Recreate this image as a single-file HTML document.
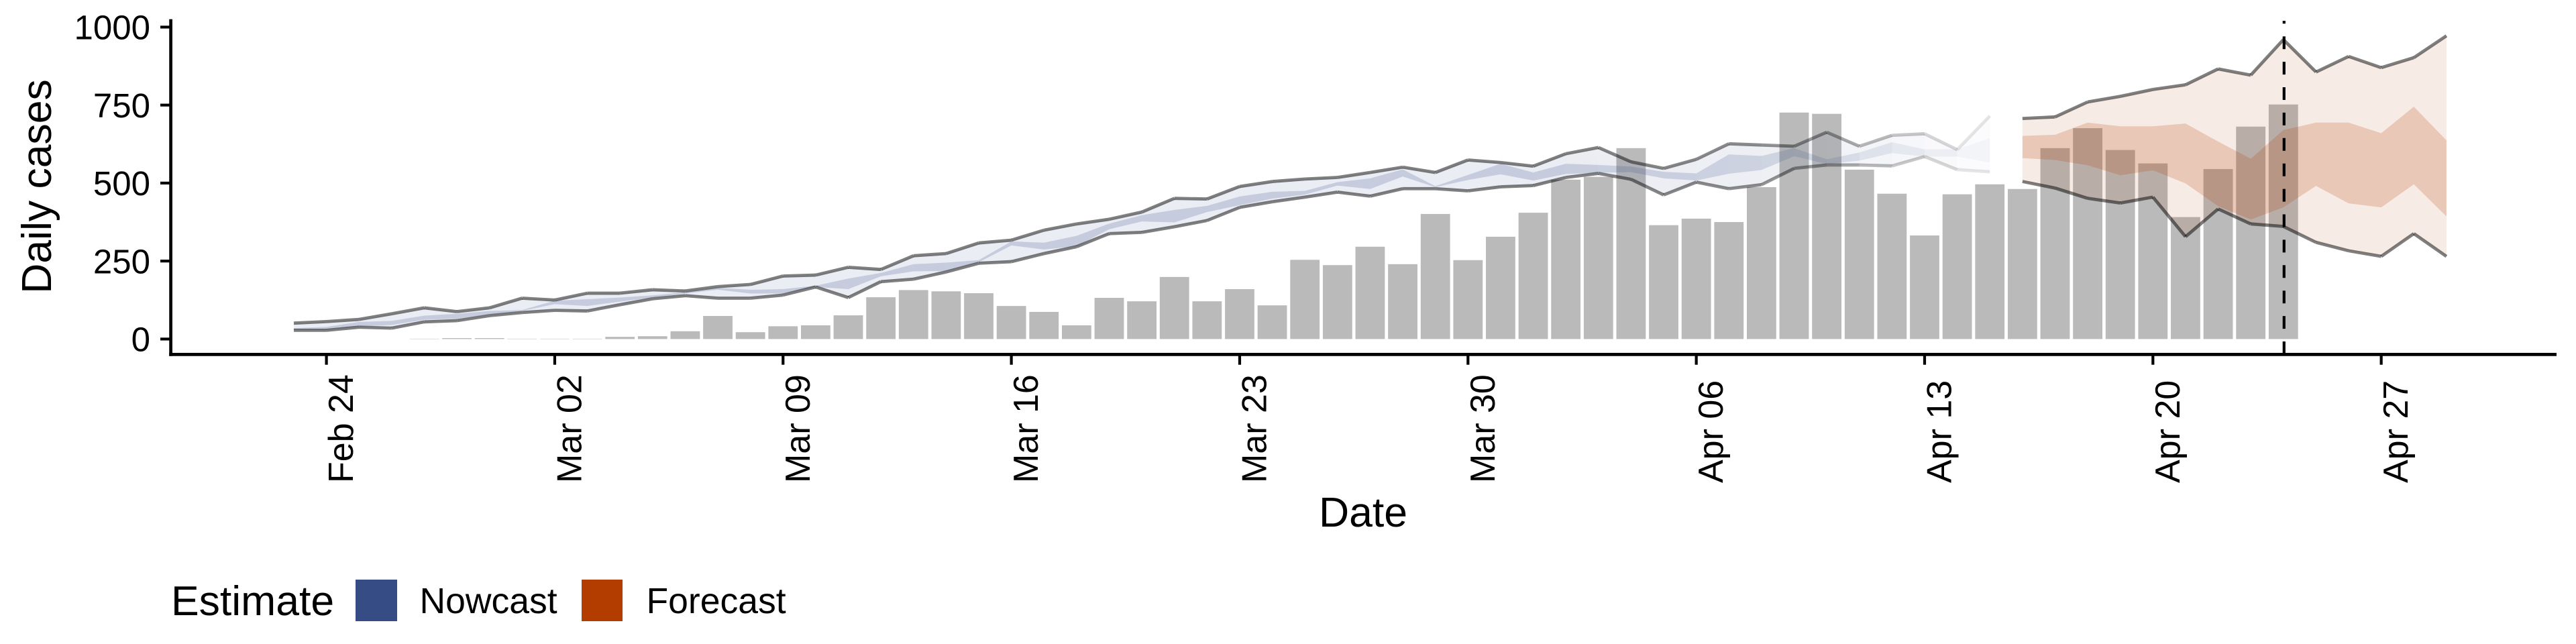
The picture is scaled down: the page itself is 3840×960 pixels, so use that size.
<!DOCTYPE html>
<html>
<head>
<meta charset="utf-8">
<title>Daily cases</title>
<style>
html,body{margin:0;padding:0;background:#fff;width:3840px;height:960px;overflow:hidden}
svg{display:block}
text{font-family:"Liberation Sans",Arial,sans-serif;fill:#000}
</style>
</head>
<body>
<svg id="chart" xmlns="http://www.w3.org/2000/svg" width="3840" height="960" viewBox="0 0 3840 960">
  <rect x="0" y="0" width="3840" height="960" fill="#ffffff"/>
  <g id="bars"></g>
  <g id="ribbons"></g>
  <g id="lines"></g>
  <g id="axes"></g>
  <text transform="translate(76,278) rotate(-90)" text-anchor="middle" font-size="62.5">Daily cases</text>
  <text x="2032" y="785" text-anchor="middle" font-size="62.5">Date</text>
  <g>
    <text x="255" y="917" font-size="62.5">Estimate</text>
    <rect x="530" y="864" width="62" height="62" fill="#354c85"/>
    <text x="625.5" y="914" font-size="53.5">Nowcast</text>
    <rect x="867" y="864" width="61" height="62" fill="#b33c00"/>
    <text x="963.5" y="914" font-size="53.5">Forecast</text>
  </g>
</svg>
<script>
// ---- Chart data (day numbers are offsets from Feb 24) ----
const yTicks = [0, 250, 500, 750, 1000];
const xTickDays = [0, 7, 14, 21, 28, 35, 42, 49, 56, 63];
const xTickLabels = ["Feb 24", "Mar 02", "Mar 09", "Mar 16", "Mar 23", "Mar 30", "Apr 06", "Apr 13", "Apr 20", "Apr 27"];
const reportDay = 60;

const barFirstDay = 3;
const barValues = [1, 3, 3, 1, 1, 1, 7, 9, 25, 74, 22, 41, 44, 76, 134, 157, 153, 147, 106, 87, 44, 132, 121, 199, 121, 160, 108, 254, 237, 296, 240, 401, 253, 328, 405, 511, 520, 612, 365, 386, 375, 487, 726, 722, 543, 466, 332, 464, 496, 481, 612, 676, 606, 563, 391, 545, 681, 752];

const nowcastFirstDay = -1;
const nowcastUpper90 = [51, 56, 63, 81, 100, 88, 100, 131, 125, 147, 147, 158, 154, 168, 175, 202, 205, 230, 223, 267, 274, 308, 317, 349, 369, 384, 407, 451, 449, 489, 505, 513, 518, 534, 551, 534, 574, 566, 554, 594, 614, 568, 547, 576, 626, 622, 618, 663, 618, 653, 658, 607, 715];
const nowcastLower90 = [28, 28, 38, 35, 55, 59, 75, 85, 92, 90, 110, 129, 139, 131, 131, 141, 167, 133, 184, 192, 215, 243, 248, 274, 296, 338, 342, 360, 380, 422, 440, 455, 471, 458, 482, 482, 475, 488, 492, 518, 531, 512, 462, 503, 482, 495, 547, 558, 558, 555, 585, 543, 536];
const nowcastUpper50 = [35, 39, 55, 58, 75, 81, 90, 93, 123, 128, 133, 140, 150, 164, 158, 160, 171, 194, 212, 240, 245, 253, 313, 309, 331, 370, 397, 414, 427, 457, 472, 475, 503, 515, 544, 490, 526, 562, 534, 562, 558, 553, 536, 531, 592, 587, 612, 576, 598, 631, 608, 608, 644];
const nowcastLower50 = [30, 30, 40, 45, 62, 65, 80, 90, 112, 106, 120, 133, 146, 158, 146, 146, 167, 160, 201, 217, 218, 246, 300, 287, 298, 352, 377, 374, 407, 429, 450, 463, 492, 481, 521, 487, 510, 528, 508, 529, 533, 535, 515, 508, 530, 542, 586, 561, 572, 596, 585, 585, 566];
const nowcastConfidence = [1, 1, 1, 1, 1, 1, 1, 1, 1, 1, 1, 1, 1, 1, 1, 1, 1, 1, 1, 1, 1, 1, 1, 1, 1, 1, 1, 1, 1, 1, 1, 1, 1, 1, 1, 1, 1, 1, 1, 0.98, 0.96, 0.95, 0.95, 0.92, 0.9, 0.85, 0.78, 0.68, 0.56, 0.44, 0.32, 0.2];

const forecastFirstDay = 52;
const forecastUpper90 = [707, 712, 760, 778, 800, 815, 866, 846, 960, 856, 906, 870, 902, 972];
const forecastLower90 = [505, 484, 451, 436, 455, 328, 417, 369, 361, 310, 283, 265, 338, 265];
const forecastUpper50 = [651, 655, 694, 682, 682, 691, 633, 578, 670, 694, 694, 660, 745, 637];
const forecastLower50 = [580, 574, 557, 525, 541, 499, 426, 383, 422, 491, 435, 422, 496, 393];

// ---- Axis functions ----
function xScale(day) { return 486.6 + day * 48.62; }
function yScale(value) { return 505.4 - value * 0.465; }

const NS = "http://www.w3.org/2000/svg";
function make(tag, parent, attrs) {
  const el = document.createElementNS(NS, tag);
  for (const k in attrs) el.setAttribute(k, attrs[k]);
  parent.appendChild(el);
  return el;
}

// ---- Bars ----
const barLayer = document.getElementById("bars");
barValues.forEach(function (v, i) {
  const x = xScale(barFirstDay + i);
  const bar = make("rect", barLayer, { x: x - 21.9, y: yScale(v), width: 43.8, height: yScale(0) - yScale(v), fill: "#bababa" });
  
  
});

// ---- Ribbons and interval lines, one piece per day ----
const ribbonLayer = document.getElementById("ribbons");
const lineLayer = document.getElementById("lines");

function drawBand(firstDay, upper, lower, colour, alpha, confidence, name) {
  for (let i = 0; i < upper.length - 1; i++) {
    const a = alpha * (confidence ? confidence[i] : 1);
    const x0 = xScale(firstDay + i), x1 = xScale(firstDay + i + 1);
    const pts = [x0 + "," + yScale(upper[i]), x1 + "," + yScale(upper[i + 1]), x1 + "," + yScale(lower[i + 1]), x0 + "," + yScale(lower[i])].join(" ");
    const piece = make("polygon", ribbonLayer, { points: pts, fill: colour, "fill-opacity": a });
    
    
  }
}

function drawLine(firstDay, values, confidence, name) {
  for (let i = 0; i < values.length - 1; i++) {
    const a = 0.5 * (confidence ? confidence[i] : 1);
    const seg = make("line", lineLayer, {
      x1: xScale(firstDay + i), y1: yScale(values[i]),
      x2: xScale(firstDay + i + 1), y2: yScale(values[i + 1]),
      stroke: "#000", "stroke-opacity": a, "stroke-width": 4.8
    });
    
    
  }
}

drawBand(nowcastFirstDay, nowcastUpper90, nowcastLower90, "#354c85", 0.1, nowcastConfidence, "nowcast-ribbon-90");
drawBand(nowcastFirstDay, nowcastUpper50, nowcastLower50, "#354c85", 0.2, nowcastConfidence, "nowcast-ribbon-50");
drawBand(forecastFirstDay, forecastUpper90, forecastLower90, "#b33c00", 0.1, null, "forecast-ribbon-90");
drawBand(forecastFirstDay, forecastUpper50, forecastLower50, "#b33c00", 0.2, null, "forecast-ribbon-50");
drawLine(nowcastFirstDay, nowcastUpper90, nowcastConfidence, "nowcast-upper-line");
drawLine(nowcastFirstDay, nowcastLower90, nowcastConfidence, "nowcast-lower-line");
drawLine(forecastFirstDay, forecastUpper90, null, "forecast-upper-line");
drawLine(forecastFirstDay, forecastLower90, null, "forecast-lower-line");

// ---- Axes ----
const axes = document.getElementById("axes");

const refLine = make("line", axes, { x1: xScale(reportDay) + 1, y1: 528, x2: xScale(reportDay) + 1, y2: 31, stroke: "#000", "stroke-width": 4.2, "stroke-dasharray": "19 18.9" });



const yAxisLine = make("line", axes, { x1: 254.6, y1: 28.6, x2: 254.6, y2: 530.8, stroke: "#000", "stroke-width": 4.7 });



const xAxisLine = make("line", axes, { x1: 252.2, y1: 528.4, x2: 3811, y2: 528.4, stroke: "#000", "stroke-width": 4.7 });



yTicks.forEach(function (v) {
  const tick = make("line", axes, { x1: 239, y1: yScale(v), x2: 252.5, y2: yScale(v), stroke: "#000", "stroke-width": 4.2 });
  
  
  const label = make("text", axes, { x: 224, y: yScale(v) + 18.3, "text-anchor": "end", "font-size": 51 });
  
  
  label.textContent = String(v);
});

xTickDays.forEach(function (d, i) {
  const x = xScale(d);
  const tick = make("line", axes, { x1: x, y1: 530, x2: x, y2: 543.7, stroke: "#000", "stroke-width": 4.2 });
  
  
  const label = make("text", axes, { transform: "translate(" + (x + 39.5) + ",720) rotate(-90)", "text-anchor": "start", "font-size": 52 });
  
  
  label.textContent = xTickLabels[i];
});
</script>
</body>
</html>
